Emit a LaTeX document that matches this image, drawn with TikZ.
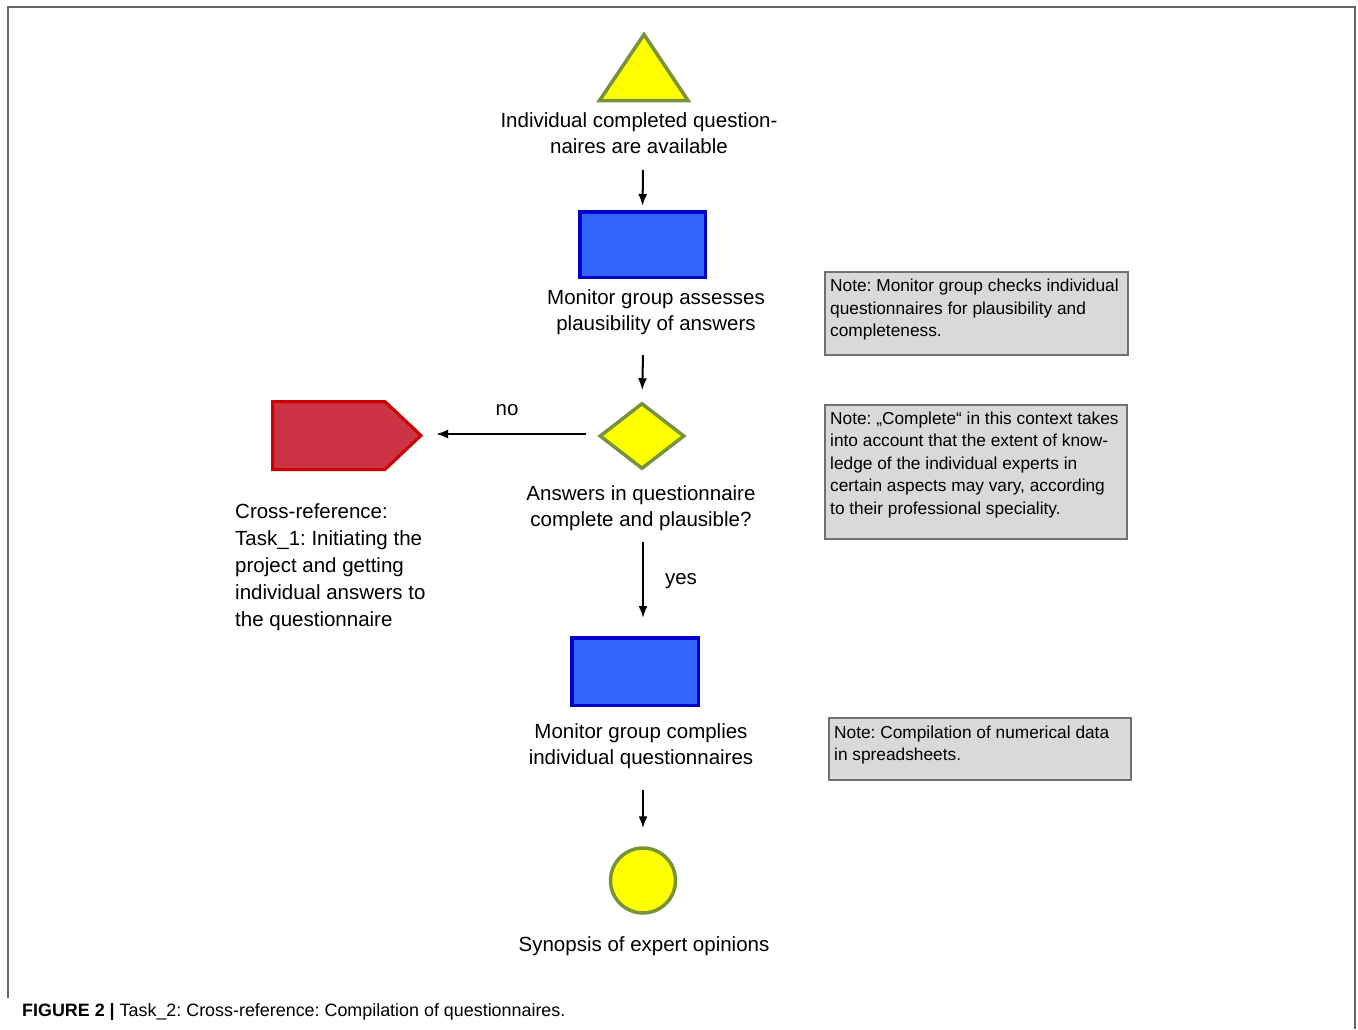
\documentclass[tikz,border=0pt]{standalone}
\usepackage{fontspec}
\setmainfont{Liberation Sans}
\usetikzlibrary{shapes.geometric,arrows.meta}
\definecolor{ylw}{HTML}{FFFF00}
\definecolor{olv}{HTML}{77933C}
\definecolor{bfill}{HTML}{3366FF}
\definecolor{bdraw}{HTML}{0000CC}
\definecolor{rfill}{HTML}{CC3344}
\definecolor{rdraw}{HTML}{CC0000}
\definecolor{nfill}{HTML}{D9D9D9}
\definecolor{ndraw}{HTML}{707070}
\definecolor{frame}{HTML}{666666}
\frenchspacing
\tikzset{
  mainfont/.style={font=\fontsize{20.5}{26}\selectfont},
  lab/.style={mainfont, inner sep=0pt, align=center},
  yshape/.style={fill=ylw, draw=olv, line width=3.5pt},
  bbox/.style={rectangle, fill=bfill, draw=bdraw, line width=3.5pt, inner sep=0pt},
  notebox/.style={rectangle, fill=nfill, draw=ndraw, line width=1.5pt, inner sep=0pt, anchor=north west},
  notetext/.style={font=\fontsize{17.3}{22.5}\selectfont, inner sep=0pt, align=left, anchor=north west},
  arr/.style={line width=2pt, -{Latex[length=12pt,width=9pt]}},
}
\begin{document}
\begin{tikzpicture}[x=1pt,y=-1pt]
\useasboundingbox (0,0) rectangle (1358,1029);
% frame
\draw[frame, line width=2pt] (8,998) -- (8,7) -- (1355,7) -- (1355,1029);

% start triangle
\draw[yshape, line join=miter] (644,34.5) -- (688,100.5) -- (599.5,100.5) -- cycle;
\coordinate (tri) at (644,68);
\node[lab] (l1) at (639,133) {Individual completed question-\\naires are available};

% first activity
\node[bbox, minimum width=125.5, minimum height=65.5] (r1) at (642.5,244.5) {};
\node[lab] (l2) at (656,312.5) {Monitor group assesses\\plausibility of answers};

% decision
\node[diamond, yshape, minimum width=85, minimum height=66, inner sep=0pt] (d) at (642,436) {};
\node[lab] (l3) at (641,508.5) {Answers in questionnaire\\complete and plausible?};

% cross reference
\draw[fill=rfill, draw=rdraw, line width=3pt, line join=miter] (272.5,401.5) -- (385,401.5) -- (421,435.5) -- (385,469.5) -- (272.5,469.5) -- cycle;
\coordinate (pent) at (421,434);
\node[font=\fontsize{20.5}{27}\selectfont, inner sep=0pt, align=left, anchor=west] (l4) at (235,567)
  {Cross-reference:\\Task\_1: Initiating the\\project and getting\\individual answers to\\the questionnaire};

% second activity
\node[bbox, minimum width=126.5, minimum height=67.5] (r2) at (635,671.5) {};
\node[lab] (l5) at (641,746.5) {Monitor group complies\\individual questionnaires};

% end event
\node[circle, yshape, minimum size=65, inner sep=0pt] (c) at (643,880.5) {};
\node[lab] (l6) at (644,946) {Synopsis of expert opinions};

% arrows
\coordinate (s1) at (643,170);
\coordinate (s2) at (643,355);
\coordinate (s3) at (643,542);
\coordinate (s4) at (643,790);
\draw[arr, shorten >=4pt] (s1) -- (r1.north);
\draw[arr, shorten >=11pt] (s2) -- (d.north);
\draw[arr, shorten >=18pt] (s3) -- (r2.north -| s3);
\draw[arr, shorten >=18pt] (s4) -- (c.north);
\draw[arr, shorten <=12pt, shorten >=15pt] (d.west |- pent) -- (pent);
\node[lab] (no) at (507,410) {no};
\node[lab] (yes) at (681,581) {yes};

% notes
\node[notebox, minimum width=303, minimum height=83] (n1) at (824,271) {};
\node[notetext] (n1t) at ([xshift=6pt,yshift=-8pt]n1.north west)
  {Note: Monitor group checks individual\\questionnaires for plausibility and\\completeness.};
\node[notebox, minimum width=302, minimum height=134] (n2) at (824,404) {};
\node[notetext] (n2t) at ([xshift=6pt,yshift=-7.5pt]n2.north west)
  {Note: „Complete“ in this context takes\\into account that the extent of know-\\ledge of the individual experts in\\certain aspects may vary, according\\to their professional speciality.};
\node[notebox, minimum width=302, minimum height=62] (n3) at (828,717) {};
\node[notetext] (n3t) at ([xshift=6pt,yshift=-8.5pt]n3.north west)
  {Note: Compilation of numerical data\\in spreadsheets.};

% caption
\node[font=\fontsize{17.9}{21}\selectfont, inner sep=0pt, anchor=base west] (cap) at (22,1016)
  {\textbf{FIGURE 2 |} Task\_2: Cross-reference: Compilation of questionnaires.};
\end{tikzpicture}
\end{document}
